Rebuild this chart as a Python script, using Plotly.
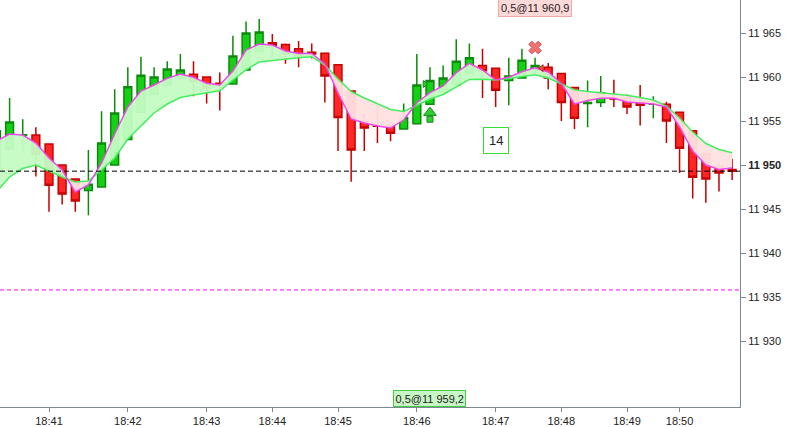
import plotly.graph_objects as go

# ---------------- data ----------------
candle_idx = list(range(57))
open_ = [11949.8, 11951.8, 11953.35, 11953.4, 11952.4, 11950.0, 11948.4, 11947.1, 11947.5, 11950.0,
         11952.9, 11956.0, 11958.0, 11959.1, 11960.0, 11960.3, 11960.0, 11959.3, 11959.2, 11960.8,
         11962.9, 11963.9, 11963.7, 11963.2, 11962.8, 11962.7, 11961.4, 11958.4, 11955.0, 11954.6,
         11954.5, 11954.1, 11954.7, 11956.9, 11958.3, 11959.1, 11960.4, 11961.3, 11961.0, 11959.6,
         11959.9, 11960.9, 11961.1, 11960.4, 11958.8, 11957.0, 11957.1, 11957.6, 11957.6, 11957.1,
         11956.9, 11956.9, 11956.0, 11953.9, 11951.3, 11949.9, 11949.5]
high = [11954.2, 11957.6, 11955.2, 11954.3, 11952.4, 11950.0, 11948.4, 11951.7, 11956.1, 11958.6,
        11961.1, 11962.3, 11961.1, 11961.8, 11962.6, 11961.8, 11960.0, 11960.5, 11964.7, 11966.3,
        11966.6, 11964.9, 11963.8, 11964.1, 11963.8, 11962.7, 11961.4, 11958.4, 11955.8, 11956.6,
        11954.6, 11957.0, 11962.6, 11961.1, 11961.3, 11964.3, 11963.8, 11963.2, 11961.0, 11962.2,
        11963.2, 11962.2, 11961.6, 11960.4, 11958.8, 11959.6, 11960.1, 11959.7, 11958.0, 11959.1,
        11957.8, 11957.2, 11956.0, 11953.9, 11951.3, 11950.2, 11950.7]
low = [11949.6, 11951.8, 11951.6, 11948.7, 11944.7, 11945.5, 11944.7, 11944.3, 11947.5, 11950.0,
       11952.9, 11956.0, 11958.0, 11959.1, 11959.6, 11957.8, 11957.0, 11956.2, 11959.2, 11960.8,
       11962.9, 11962.3, 11961.5, 11961.1, 11962.1, 11957.1, 11951.6, 11948.1, 11951.6, 11952.5,
       11952.7, 11954.1, 11954.7, 11956.9, 11958.3, 11959.1, 11960.4, 11957.6, 11956.6, 11956.8,
       11959.9, 11960.4, 11958.6, 11955.0, 11954.1, 11954.3, 11956.6, 11956.6, 11955.8, 11954.5,
       11955.3, 11952.5, 11949.1, 11946.2, 11945.7, 11947.0, 11948.3]
close = [11953.9, 11954.9, 11953.45, 11951.2, 11947.7, 11946.7, 11945.9, 11947.8, 11952.5, 11955.9,
         11958.9, 11960.2, 11960.0, 11960.9, 11960.8, 11959.5, 11958.7, 11959.1, 11962.4, 11965.0,
         11965.1, 11963.6, 11962.6, 11962.3, 11962.6, 11960.1, 11955.4, 11951.7, 11954.2, 11954.4,
         11953.6, 11955.4, 11959.1, 11959.6, 11959.9, 11961.8, 11962.2, 11960.7, 11958.5, 11960.1,
         11961.9, 11961.3, 11959.9, 11957.1, 11955.3, 11957.1, 11958.2, 11957.5, 11956.6, 11956.8,
         11957.0, 11955.0, 11951.9, 11948.6, 11948.4, 11949.1, 11949.3]

fast_ma = [11952.73, 11953.52, 11953.41, 11952.5, 11950.8, 11949.43, 11946.93, 11947.73, 11950.23, 11953.52,
           11956.59, 11958.41, 11959.09, 11959.85, 11960.34, 11959.97, 11959.28, 11959.09, 11960.68, 11963.07,
           11963.75, 11963.64, 11962.95, 11962.67, 11962.67, 11961.48, 11958.18, 11955.23, 11954.77, 11954.43,
           11954.2, 11955.11, 11957.08, 11958.22, 11958.98, 11960.49, 11961.56, 11960.8, 11959.66, 11959.97,
           11960.6, 11961.06, 11960.57, 11959.26, 11956.93, 11957.33, 11957.58, 11957.58, 11957.16, 11957.01,
           11956.93, 11956.59, 11954.32, 11951.59, 11950.0, 11949.49, 11949.66]
slow_ma = [11946.93, 11948.64, 11949.6, 11950.0, 11949.32, 11948.64, 11948.07, 11948.18, 11949.43, 11950.8,
           11952.95, 11954.43, 11955.91, 11956.93, 11957.67, 11957.95, 11958.18, 11958.44, 11959.66, 11960.8,
           11961.7, 11961.88, 11962.07, 11962.18, 11962.31, 11961.36, 11959.77, 11958.35, 11957.61, 11956.93,
           11956.31, 11956.08, 11956.82, 11957.5, 11958.01, 11958.86, 11959.72, 11959.74, 11959.66, 11959.83,
           11960.06, 11960.26, 11959.89, 11959.26, 11958.56, 11958.35, 11958.22, 11958.07, 11957.92, 11957.67,
           11957.39, 11956.7, 11955.34, 11953.75, 11952.44, 11951.76, 11951.4]

minute_idx = [4, 10, 16, 21, 26, 32, 38, 43, 48, 52]
minute_labels = ["18:41", "18:42", "18:43", "18:44", "18:45", "18:46", "18:47", "18:48", "18:49", "18:50"]
price_ticks = [11930, 11935, 11940, 11945, 11950, 11955, 11960, 11965]
price_tick_labels = ["11 930", "11 935", "11 940", "11 945", "<b>11 950</b>", "11 955", "11 960", "11 965"]

last_price = 11949.3
level_price = 11935.8

buy_idx, buy_price, buy_label = 33, 11955.6, "0,5@11 959,2"
sell_idx, sell_price, sell_label = 41, 11963.35, "0,5@11 960,9"
count_idx, count_price, count_label = 38, 11952.8, "14"
entry_tri_idx, entry_tri_price = 32.6, 11959.2
exit_tri_idx, exit_tri_price = 41.5, 11961.0

# ---------------- figure ----------------
GREEN_FILL = "rgba(196,252,196,0.95)"
PINK_FILL = "rgba(255,224,224,0.95)"

fig = go.Figure()

# fill between fast & slow MA, split at crossings
def regions(xs, a, b):
    out = []
    cx, ca, cb = [xs[0]], [a[0]], [b[0]]
    sign = a[0] >= b[0]
    for i in range(1, len(xs)):
        s = a[i] >= b[i]
        if s != sign:
            d0 = a[i - 1] - b[i - 1]
            d1 = a[i] - b[i]
            t = d0 / (d0 - d1)
            xc = xs[i - 1] + t * (xs[i] - xs[i - 1])
            yc = a[i - 1] + t * (a[i] - a[i - 1])
            cx.append(xc); ca.append(yc); cb.append(yc)
            out.append((sign, cx, ca, cb))
            cx, ca, cb = [xc], [yc], [yc]
            sign = s
        cx.append(xs[i]); ca.append(a[i]); cb.append(b[i])
    out.append((sign, cx, ca, cb))
    return out

for sign, cx, ca, cb in regions(candle_idx, fast_ma, slow_ma):
    fig.add_trace(go.Scatter(
        x=cx + cx[::-1], y=ca + cb[::-1], fill="toself", mode="none",
        fillcolor=GREEN_FILL if sign else PINK_FILL, hoverinfo="skip", showlegend=False))

fig.add_trace(go.Candlestick(
    x=candle_idx, open=open_, high=high, low=low, close=close,
    increasing=dict(fillcolor="#16d016", line=dict(color="#0b8a0b", width=1.5)),
    decreasing=dict(fillcolor="#ff2626", line=dict(color="#c80000", width=1.5)),
    showlegend=False))

fig.add_trace(go.Scatter(x=candle_idx, y=slow_ma, mode="lines",
                         line=dict(color="#45ee5e", width=1.5), showlegend=False))
fig.add_trace(go.Scatter(x=candle_idx, y=fast_ma, mode="lines",
                         line=dict(color="#f048e8", width=1.5), showlegend=False))

# signals
fig.add_trace(go.Scatter(x=[buy_idx], y=[buy_price - 0.4], mode="markers",
                         marker=dict(symbol="square", size=6, color="#2fcf2f",
                                     line=dict(color="#158a15", width=1)), showlegend=False))
fig.add_trace(go.Scatter(x=[buy_idx], y=[buy_price + 0.35], mode="markers",
                         marker=dict(symbol="triangle-up", size=11, color="#2fcf2f",
                                     line=dict(color="#158a15", width=1)), showlegend=False))
fig.add_trace(go.Scatter(x=[sell_idx], y=[sell_price], mode="markers",
                         marker=dict(symbol="x", size=11, color="#f07272",
                                     line=dict(color="#c84848", width=1)), showlegend=False))
fig.add_trace(go.Scatter(x=[entry_tri_idx], y=[entry_tri_price], mode="markers",
                         marker=dict(symbol="triangle-right", size=6, color="#2fcf2f",
                                     line=dict(color="#158a15", width=1)), showlegend=False))
fig.add_trace(go.Scatter(x=[exit_tri_idx], y=[exit_tri_price], mode="markers",
                         marker=dict(symbol="triangle-left", size=6, color="#f05050",
                                     line=dict(color="#c02020", width=1)), showlegend=False))

fig.add_hline(y=last_price, line=dict(color="#000000", width=1, dash="5px,3px"))
fig.add_hline(y=level_price, line=dict(color="#ff00ff", width=1, dash="4px,3px"))

fig.add_annotation(x=sell_idx, xref="x", y=1 - 7.5 / 407, yref="paper", yanchor="middle",
                   text=sell_label, showarrow=False, bgcolor="#ffd8d8", bordercolor="#f4a4a4",
                   borderwidth=1, borderpad=2, font=dict(size=11, color="#222222"))
fig.add_annotation(x=buy_idx, xref="x", y=0, yref="paper", yanchor="bottom",
                   text=buy_label, showarrow=False, bgcolor="#c8f5c4", bordercolor="#48c848",
                   borderwidth=1, borderpad=1.5, font=dict(size=11, color="#222222"))
fig.add_annotation(x=count_idx, xref="x", y=count_price, yref="y",
                   text=count_label, showarrow=False, bgcolor="#ffffff", bordercolor="#33e033",
                   borderwidth=1, borderpad=5, font=dict(size=13, color="#222222"))

fig.update_layout(
    width=786, height=427,
    margin=dict(l=0, r=46, t=0, b=20),
    paper_bgcolor="#ffffff", plot_bgcolor="#ffffff",
    font=dict(family="Liberation Sans, Arial, sans-serif", size=11, color="#222222"),
    boxgap=0.15,
    showlegend=False,
    hovermode=False,
    xaxis=dict(range=[0.27, 56.6], rangeslider=dict(visible=False), showgrid=False, zeroline=False,
               tickmode="array", tickvals=minute_idx, ticktext=minute_labels,
               ticks="outside", ticklen=4, tickcolor="#7a8a90",
               showline=True, linecolor="#7a8a90", linewidth=1),
    yaxis=dict(range=[11922.5, 11968.75], side="right", showgrid=False, zeroline=False,
               tickmode="array", tickvals=price_ticks, ticktext=price_tick_labels,
               ticks="outside", ticklen=5, tickcolor="#7a8a90",
               showline=True, linecolor="#7a8a90", linewidth=1),
)

fig.write_html("out.html", config={"displayModeBar": False},
               post_script="document.body.style.margin='0px';document.body.style.padding='0px';")
